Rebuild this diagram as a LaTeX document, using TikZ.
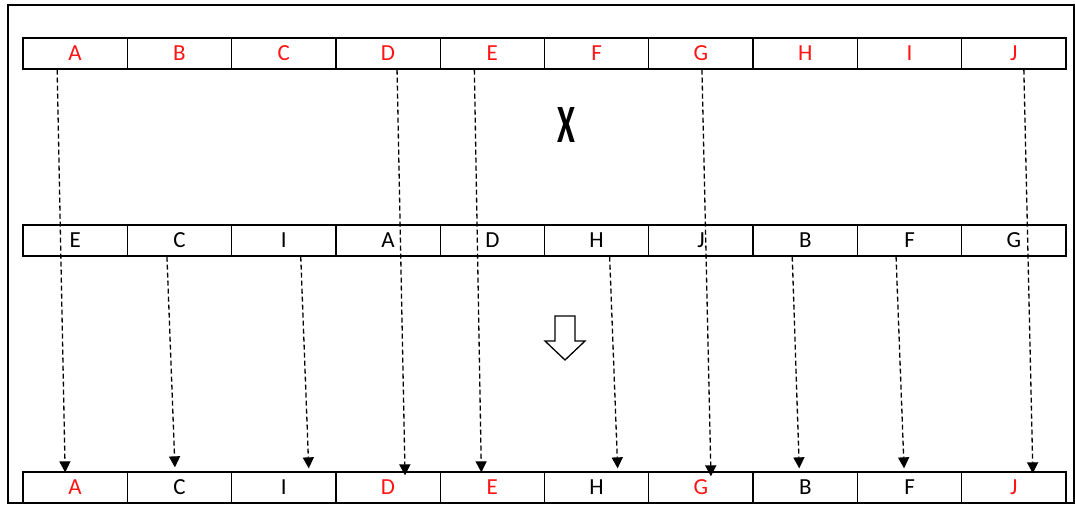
\documentclass[tikz,border=0pt]{standalone}
\usepackage{fontspec}
\setmainfont{Carlito}
\usetikzlibrary{arrows.meta}
\definecolor{genered}{RGB}{255,20,20}

\begin{document}
\begin{tikzpicture}[x=1pt,y=-1pt,
  cell/.style={draw,line width=1.3pt,minimum width=104.3pt,minimum height=31pt,
    inner sep=0pt,font=\fontsize{23}{23}\selectfont},
  link/.style={line width=1.3pt,dash pattern=on 5pt off 3pt,
    -{Triangle[width=11pt,length=11pt]}}]
  \useasboundingbox (0,0) rectangle (1075,506);
  \draw[line width=1.3pt] (8,5) rectangle (1074,503);
  % first parent
  \foreach \l [count=\i] in {A,B,C,D,E,F,G,H,I,J}
    \node[cell,text=genered] (t\i) at ({75.15+104.3*(\i-1)},53.5) {\l};
  % second parent
  \foreach \l [count=\i] in {E,C,I,A,D,H,J,B,F,G}
    \node[cell] (m\i) at ({75.15+104.3*(\i-1)},240.5) {\l};
  % child
  \foreach \l/\c [count=\i] in {A/genered,C/black,I/black,D/genered,E/genered,
      H/black,G/genered,B/black,F/black,J/genered}
    \node[cell,text=\c] (b\i) at ({75.15+104.3*(\i-1)},487.5) {\l};
  % crossover mark
  \node[font=\fontsize{54}{54}\selectfont\bfseries,xscale=0.6] (cross) at (566,125) {X};
  % hollow arrow
  \draw[line width=1.3pt] (555,316) -- (575,316) -- (575,341) -- (585,341)
    -- (565,360) -- (545,341) -- (555,341) -- cycle;
  % gene moves
  \foreach \a/\da/\b/\db/\e in {t1/-18/b1/-10/-1, m2/-12.5/b2/-4.5/4, m3/17/b3/25/3,
      t4/9/b4/17/-4, t5/-18/b5/-11/-1, m6/13/b6/21/3, t7/1/b7/10/-5,
      m8/-13/b8/-6/3, m9/-13.5/b9/-5.5/3, t10/10/b10/19/-2}
    \draw[link] ([xshift=\da pt]\a.south) -- ([xshift=\db pt,yshift=\e pt]\b.north);
\end{tikzpicture}
\end{document}
